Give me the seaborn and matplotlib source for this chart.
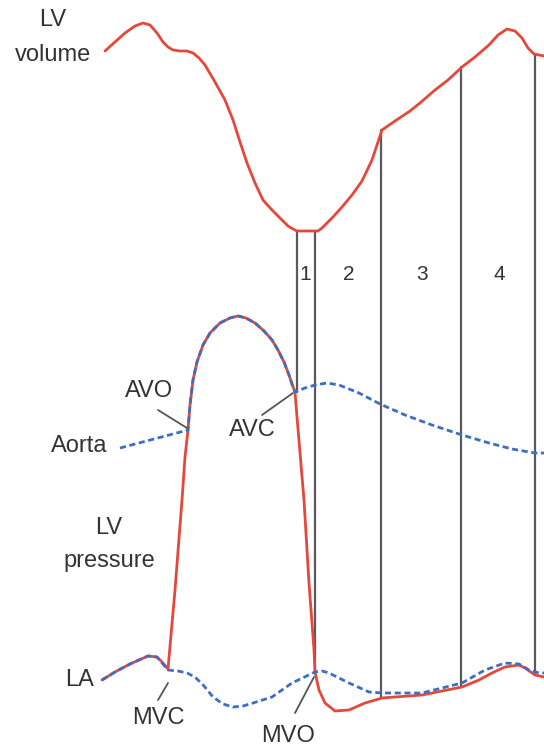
import numpy as np
import pandas as pd
import matplotlib
matplotlib.use('Agg')
import matplotlib.pyplot as plt
import seaborn as sns

# curves, in picture pixels (x to the right, y downwards)
volume_x = [105, 115, 125, 135, 143, 150, 157, 163, 168, 173, 180, 187, 193, 199, 205, 215, 225, 233,
            240, 247, 255, 263, 272, 280, 288, 293, 297, 318, 322, 327, 333, 342, 352, 362, 372, 378,
            382, 395, 410, 420, 435, 448, 462, 475, 489, 498, 507, 515, 522, 528, 534, 544]
volume_y = [51, 42, 33, 26, 23, 25, 33, 42, 47, 50, 51, 51, 53, 58, 65, 82, 100, 120,
            142, 163, 183, 200, 210, 218, 226, 229, 231, 231, 228, 223, 217, 207, 195, 181, 160, 142,
            130, 121, 111, 103, 90, 80, 67, 57, 45, 35, 29, 31, 38, 48, 54, 56]

lvp_x = [102, 115, 130, 148, 157, 163, 168, 175, 182, 185, 188, 190, 193, 197, 203, 210, 220, 230,
         238, 246, 255, 264, 272, 278, 284, 289, 292, 295, 297, 304, 309, 314, 315, 319, 325, 335,
         349, 365, 382, 422, 462, 479, 492, 505, 519, 525, 535, 544]
lvp_y = [680, 672, 664, 656, 657, 663, 669, 590, 500, 457, 430, 405, 380, 362, 345, 333, 323, 318,
         316, 318, 323, 331, 340, 350, 362, 375, 384, 392, 417, 500, 583, 650, 672, 690, 703, 711,
         710, 703, 698, 695, 687, 680, 673, 667, 665, 668, 675, 677]

aorta_x = [120, 188, 190, 193, 197, 203, 210, 220, 230, 238, 246, 255, 264, 272, 278, 284, 289, 292,
           295, 305, 315, 327, 339, 359, 380, 405, 432, 462, 489, 512, 535, 544]
aorta_y = [448, 430, 405, 380, 362, 345, 333, 323, 318, 316, 318, 323, 331, 340, 350, 362, 375, 384,
           392, 388, 385, 383, 385, 393, 404, 415, 425, 435, 443, 449, 453, 453]

la_x = [102, 115, 130, 148, 157, 168, 178, 187, 195, 204, 213, 223, 233, 243, 253, 272, 292, 315,
        322, 329, 339, 349, 369, 382, 422, 462, 485, 505, 519, 529, 539, 544]
la_y = [680, 672, 664, 656, 657, 670, 671, 673, 677, 686, 697, 704, 707, 706, 703, 697, 683, 672,
        671, 673, 678, 683, 692, 693, 693, 683, 670, 663, 664, 670, 673, 673]

# phase boundaries
phase_x = [297, 315, 381, 461, 535]
phase_top = [231, 231, 130, 67, 55]
phase_bottom = [392, 672, 697, 687, 673]
phase_labels = ['1', '2', '3', '4']
phase_label_x = [305, 349, 422, 499]

RED = '#e5483b'
BLUE = '#3b6ec4'
INK = '#333333'

sns.set_style('white')
plt.rcParams['font.family'] = ['Liberation Sans', 'DejaVu Sans']

fig = plt.figure(figsize=(5.44, 7.46), dpi=100)
ax = fig.add_axes([0, 0, 1, 1])
ax.set_xlim(0, 544)
ax.set_ylim(746, 0)
ax.axis('off')

for x, top, bottom in zip(phase_x, phase_top, phase_bottom):
    ax.plot([x, x], [top, bottom], color='#5a5a5a', lw=1.6, zorder=1)

sns.lineplot(x=volume_x, y=volume_y, sort=False, estimator=None, color=RED, lw=2, ax=ax)
sns.lineplot(x=lvp_x, y=lvp_y, sort=False, estimator=None, color=RED, lw=2, ax=ax)
sns.lineplot(x=aorta_x, y=aorta_y, sort=False, estimator=None, color=BLUE, lw=2,
             dashes=False, ax=ax).lines[-1].set_dashes([2.2, 1.3])
sns.lineplot(x=la_x, y=la_y, sort=False, estimator=None, color=BLUE, lw=2,
             dashes=False, ax=ax).lines[-1].set_dashes([2.2, 1.3])

for lab, x in zip(phase_labels, phase_label_x):
    ax.text(x, 275, lab, ha='center', va='center', fontsize=15, color=INK)

fs = 17
ax.text(53, 20, 'LV', ha='center', va='center', fontsize=fs, color=INK)
ax.text(53, 55, 'volume', ha='center', va='center', fontsize=fs, color=INK)
ax.text(109, 528, 'LV', ha='center', va='center', fontsize=fs, color=INK)
ax.text(109, 561, 'pressure', ha='center', va='center', fontsize=fs, color=INK)
ax.text(79, 446, 'Aorta', ha='center', va='center', fontsize=fs, color=INK)
ax.text(80, 680, 'LA', ha='center', va='center', fontsize=fs, color=INK)
ax.text(149, 391, 'AVO', ha='center', va='center', fontsize=fs, color=INK)
ax.text(252, 430, 'AVC', ha='center', va='center', fontsize=fs, color=INK)
ax.text(158, 718, 'MVC', ha='center', va='center', fontsize=fs, color=INK)
ax.text(288, 736, 'MVO', ha='center', va='center', fontsize=fs, color=INK)

# leader lines
leaders = [((158, 410), (187, 428)), ((262, 415), (293, 393)),
           ((158, 700), (168, 683)), ((295, 713), (314, 677))]
for (x0, y0), (x1, y1) in leaders:
    ax.plot([x0, x1], [y0, y1], color='#555555', lw=1.3)

fig.savefig('out.png', dpi=100, facecolor='white')
